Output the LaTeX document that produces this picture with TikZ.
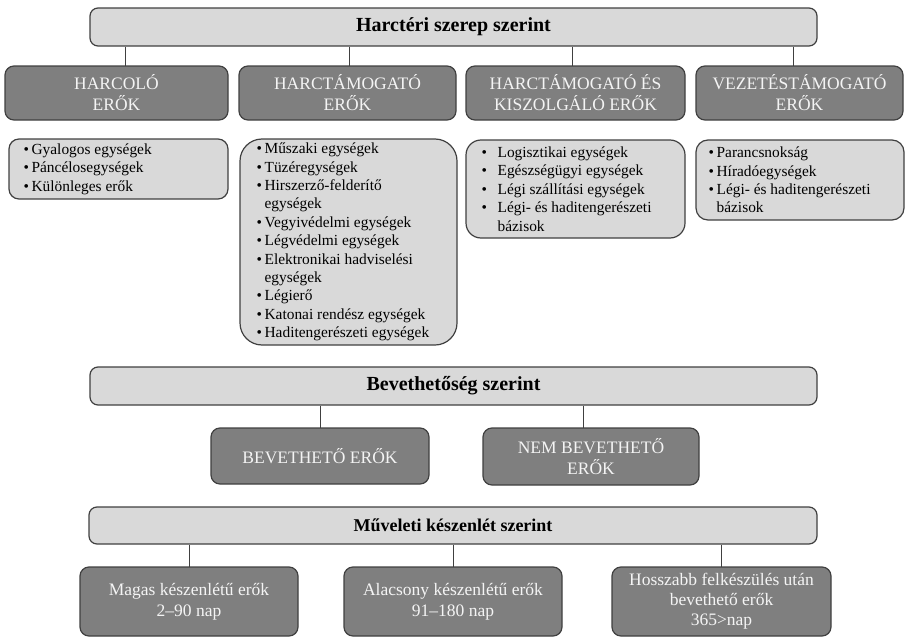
\documentclass[tikz,border=0pt]{standalone}
\usepackage{fontspec}
\setmainfont{Liberation Serif}
\definecolor{linec}{HTML}{404040}
\definecolor{lightf}{HTML}{D9D9D9}
\definecolor{darkf}{HTML}{7F7F7F}
\definecolor{darkt}{HTML}{F4F4F4}
\newcommand\itm[1]{\makebox[8pt][l]{\textbullet}#1}
\newcommand\itmw[1]{\makebox[16pt][l]{\textbullet}#1}
\tikzset{
  hdr/.style={draw=linec, fill=lightf, rounded corners=8pt, line width=1.2pt,
    font=\fontsize{20}{24}\selectfont\bfseries, inner sep=0pt},
  dark/.style={draw=linec, fill=darkf, rounded corners=9pt, line width=1.2pt,
    text=darkt, align=center, font=\fontsize{17.5}{21}\selectfont, inner sep=0pt},
  lbox/.style={draw=linec, fill=lightf, line width=1.2pt, inner sep=0pt},
  ltxt/.style={align=left, inner sep=0pt, font=\fontsize{15.4}{18.4}\selectfont, anchor=west},
  conn/.style={draw=linec, line width=1pt},
}
\begin{document}
\begin{tikzpicture}[x=1pt,y=-1pt]
\useasboundingbox (0,0) rectangle (905,637);
% level 1
\node[hdr, minimum width=727pt, minimum height=38pt] (h1) at (453.5,27) {Harctéri szerep szerint};
\node[dark, minimum width=223pt, minimum height=54pt] (a) at (116.5,93) {HARCOLÓ\\ERŐK};
\node[dark, minimum width=217pt, minimum height=54pt] (b) at (347.5,93) {HARCTÁMOGATÓ\\ERŐK};
\node[dark, minimum width=219pt, minimum height=54pt] (c) at (575.5,93) {HARCTÁMOGATÓ ÉS\\KISZOLGÁLÓ ERŐK};
\node[dark, minimum width=207pt, minimum height=54pt] (d) at (799.5,93) {VEZETÉSTÁMOGATÓ\\ERŐK};
\coordinate (ca) at (125,66);
\coordinate (cb) at (349,66);
\coordinate (cc) at (572,66);
\coordinate (cd) at (793,66);
\foreach \k in {ca,cb,cc,cd} \draw[conn] (\k |- h1.south) -- (\k);
% lists
\node[lbox, rounded corners=10pt, minimum width=219pt, minimum height=60pt] (l1) at (118.5,169) {};
\node[lbox, rounded corners=22pt, minimum width=217pt, minimum height=206pt] (l2) at (348.5,242) {};
\node[lbox, rounded corners=15pt, minimum width=219pt, minimum height=98pt] (l3) at (575.5,189) {};
\node[lbox, rounded corners=12pt, minimum width=208pt, minimum height=80pt] (l4) at (800,180) {};
\node[ltxt] (t1) at ([xshift=15pt]l1.west) {\itm{Gyalogos egységek}\\\itm{Páncélosegységek}\\\itm{Különleges erők}};
\node[ltxt] (t2) at ([xshift=17pt]l2.west) {\itm{Műszaki egységek}\\\itm{Tüzéregységek}\\\itm{Hirszerző-felderítő}\\\hspace*{8pt}egységek\\\itm{Vegyivédelmi egységek}\\\itm{Légvédelmi egységek}\\\itm{Elektronikai hadviselési}\\\hspace*{8pt}egységek\\\itm{Légierő}\\\itm{Katonai rendész egységek}\\\itm{Haditengerészeti egységek}};
\node[ltxt] (t3) at ([xshift=16pt]l3.west) {\itmw{Logisztikai egységek}\\\itmw{Egészségügyi egységek}\\\itmw{Légi szállítási egységek}\\\itmw{Légi- és haditengerészeti}\\\hspace*{16pt}bázisok};
\node[ltxt] (t4) at ([xshift=13pt]l4.west) {\itm{Parancsnokság}\\\itm{Híradóegységek}\\\itm{Légi- és haditengerészeti}\\\hspace*{8pt}bázisok};
% level 2
\node[hdr, minimum width=727pt, minimum height=38pt] (h2) at (453.5,386) {Bevethetőség szerint};
\node[dark, minimum width=218pt, minimum height=56pt] (e) at (320,456) {BEVETHETŐ ERŐK};
\node[dark, minimum width=216pt, minimum height=57pt] (f) at (591,456.5) {NEM BEVETHETŐ\\ERŐK};
\coordinate (ce) at (320,428);
\coordinate (cf) at (583,428);
\foreach \k in {ce,cf} \draw[conn] (\k |- h2.south) -- (\k);
% level 3
\node[hdr, minimum width=728pt, minimum height=37pt, font=\fontsize{18}{22}\selectfont\bfseries] (h3) at (453,525.5) {Műveleti készenlét szerint};
\node[dark, minimum width=218pt, minimum height=69pt] (g) at (189,601.5) {Magas készenlétű erők\\2–90 nap};
\node[dark, minimum width=218pt, minimum height=69pt] (h) at (453,601.5) {Alacsony készenlétű erők\\91–180 nap};
\node[dark, minimum width=219pt, minimum height=69pt, font=\fontsize{17.5}{20}\selectfont] (i) at (721.5,601.5) {Hosszabb felkészülés után\\bevethető erők\\365>nap};
\coordinate (cg) at (189,567);
\coordinate (ch) at (453,567);
\coordinate (ci) at (721,567);
\foreach \k in {cg,ch,ci} \draw[conn] (\k |- h3.south) -- (\k);
\end{tikzpicture}
\end{document}
